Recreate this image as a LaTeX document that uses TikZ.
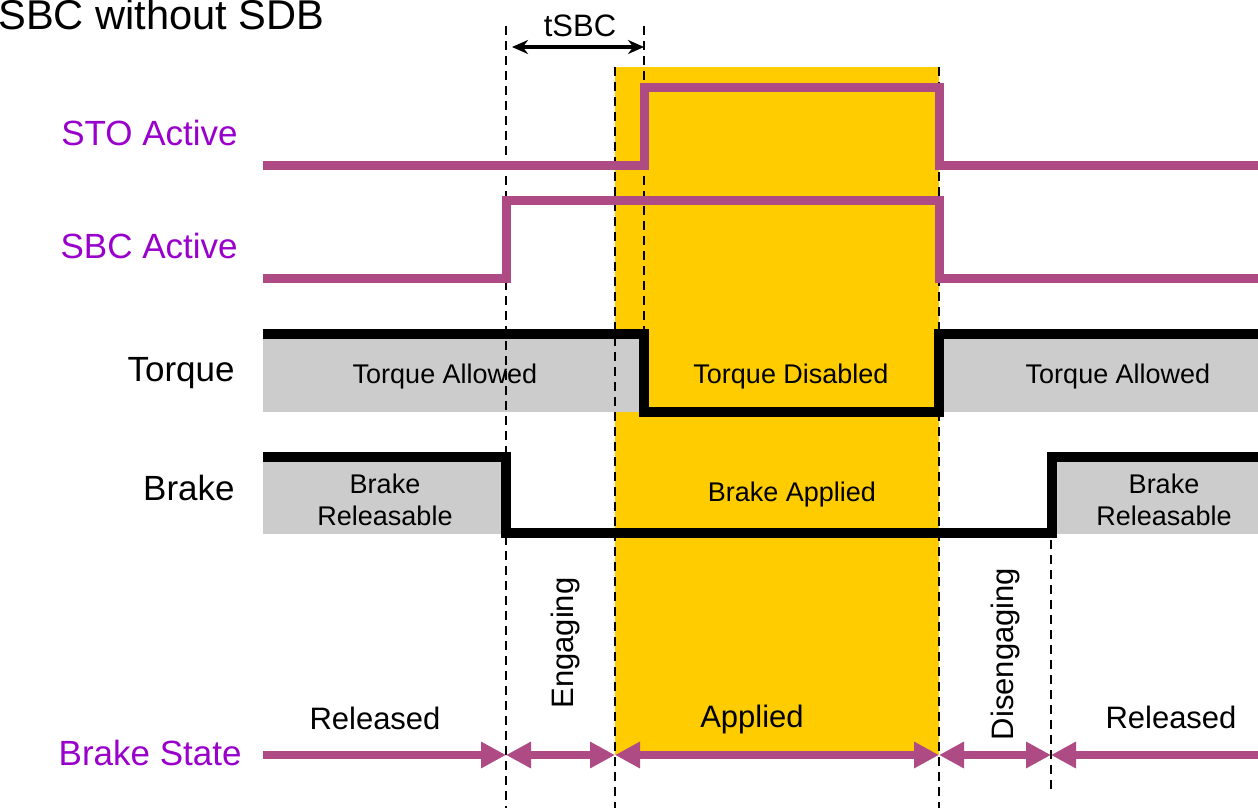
\documentclass[tikz,border=0pt]{standalone}
\usepackage{fontspec}
\setmainfont{Liberation Sans}
\usetikzlibrary{arrows.meta}
\definecolor{sigpurple}{HTML}{AE4A84}
\definecolor{lblpurple}{HTML}{9900CC}
\definecolor{bandyellow}{HTML}{FFCC00}
\definecolor{bandgray}{HTML}{CCCCCC}
\tikzset{
  sig/.style={draw=sigpurple,line width=4.5pt,line join=miter},
  lvl/.style={draw=black,line width=5pt,line join=miter},
  band/.style={fill=bandgray,draw=none},
  mark line/.style={draw=black,line width=1.2pt,dash pattern=on 4.5pt off 3pt},
  phase/.style={draw=sigpurple,line width=4pt,
    arrows={-Triangle[length=12.5pt,width=12.5pt]}},
  lbl/.style={font=\fontsize{17.5}{20}\selectfont,anchor=base east,inner sep=0},
  inner/.style={font=\fontsize{13.5}{16}\selectfont,inner sep=0},
  lower/.style={font=\fontsize{15.5}{18}\selectfont,inner sep=0}
}
\begin{document}
\begin{tikzpicture}[x=0.5pt,y=-0.5pt]
    \useasboundingbox (0,0) rectangle (1258,808);

    % applied window and level bands
    \fill[bandyellow] (615,67) rectangle (939,755);
    \path[band] (263,338) rectangle (640,412);
    \path[band] (943,338) rectangle (1258,412);
    \path[band] (263,461) rectangle (503,534);
    \path[band] (1056,461) rectangle (1258,534);

    % time marks
    \draw[mark line] (506,26) -- (506,808);
    \draw[mark line] (644,26) -- (644,334);
    \draw[mark line] (615,67) -- (615,808);
    \draw[mark line] (939,67) -- (939,808);
    \draw[mark line] (1051,540) -- (1051,791);

    % signals
    \draw[sig] (263,165) -- (644,165) -- (644,88) -- (939,88) -- (939,165) -- (1258,165);
    \draw[sig] (263,278) -- (506,278) -- (506,200) -- (939,200) -- (939,278) -- (1258,278);
    \draw[lvl] (263,334) -- (644,334) -- (644,412) -- (939,412) -- (939,334) -- (1258,334);
    \draw[lvl] (263,457) -- (506,457) -- (506,533) -- (1052,533) -- (1052,457) -- (1258,457);

    % tSBC
    \coordinate (s0) at (512,47);
    \coordinate (s1) at (644,47);
    \draw[line width=1.8pt,{Stealth[length=8pt,width=7pt]}-{Stealth[length=8pt,width=7pt]}] (s0) -- (s1);
    \node[lower,anchor=base] (tsbc) at (580,37) {tSBC};

    % brake state
    \coordinate (b0) at (263,755);
    \coordinate (b1) at (506,755);
    \coordinate (b2) at (615,755);
    \coordinate (b3) at (939,755);
    \coordinate (b4) at (1051,755);
    \coordinate (b5) at (1258,755);
    \draw[phase] (b0) -- (b1);
    \draw[phase,arrows={Triangle[length=12.5pt,width=12.5pt]-Triangle[length=12.5pt,width=12.5pt]}] (b1) -- (b2);
    \draw[phase,arrows={Triangle[length=12.5pt,width=12.5pt]-Triangle[length=12.5pt,width=12.5pt]}] (b2) -- (b3);
    \draw[phase,arrows={Triangle[length=12.5pt,width=12.5pt]-Triangle[length=12.5pt,width=12.5pt]}] (b3) -- (b4);
    \draw[phase] (b5) -- (b4);

    % texts
    \node[font=\fontsize{20.8}{24}\selectfont,anchor=base west,inner sep=0] (title) at (-2,30) {SBC without SDB};
    \node[lbl,text=lblpurple] (sto) at (238,146) {STO Active};
    \node[lbl,text=lblpurple] (sbc) at (238,258) {SBC Active};
    \node[lbl] (torque) at (235,381) {Torque};
    \node[lbl] (brake) at (235,500) {Brake};
    \node[lbl,text=lblpurple] (state) at (242,765) {Brake State};

    \node[inner,anchor=base] (ta1) at (445,383) {Torque Allowed};
    \node[inner,anchor=base] (td) at (791,383) {Torque Disabled};
    \node[inner,anchor=base] (ta2) at (1118,383) {Torque Allowed};
    \node[inner,align=center] (br1) at (385,500) {Brake\\Releasable};
    \node[inner,anchor=base] (ba) at (792,501) {Brake Applied};
    \node[inner,align=center] (br2) at (1164,500) {Brake\\Releasable};

    \node[lower,anchor=base] (rel1) at (375,729) {Released};
    \node[lower,rotate=90] (eng) at (565,643) {Engaging};
    \node[lower,anchor=base] (app) at (752,727) {Applied};
    \node[lower,rotate=90] (dis) at (1005,654) {Disengaging};
    \node[lower,anchor=base] (rel2) at (1171,728) {Released};
\end{tikzpicture}
\end{document}
